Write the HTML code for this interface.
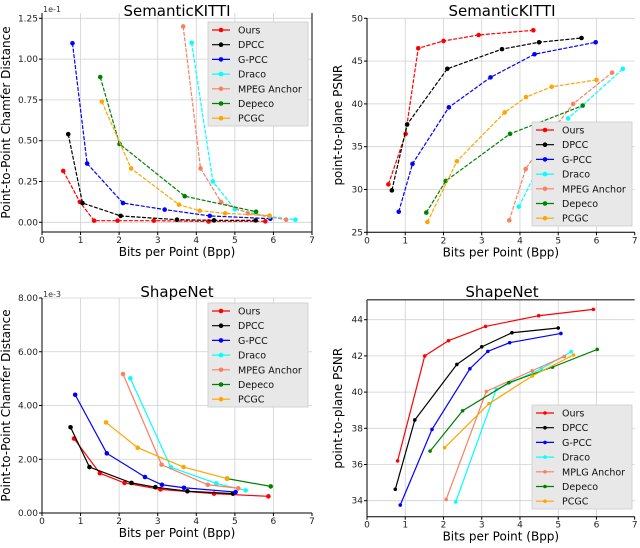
<!DOCTYPE html>
<html><head><meta charset="utf-8"><style>
body{margin:0;background:#fff;}
svg{display:block;font-family:"DejaVu Sans","Liberation Sans",sans-serif;}
</style></head><body>
<svg id="c" width="640" height="548"></svg>
<script>
const seriesNames=["Ours","DPCC","G-PCC","Draco","MPEG Anchor","Depeco","PCGC"];
const colors=["#ff0000","#000000","#0000ff","#00ffff","#fa8062","#008000","#ffa500"];
const xTicks=[0,1,2,3,4,5,6,7];

// Panel A: SemanticKITTI chamfer (1e-1)
const aX=[[0.55,0.98,1.35,1.96,2.9,4.32,5.79],[0.68,1.05,2.04,3.5,4.46,5.54],[0.79,1.17,2.1,3.18,4.35,5.92],[3.88,4.43,5.0,5.9,6.57],[3.66,4.11,4.64,5.34,6.33],[1.51,2.01,3.7,5.55],[1.55,2.31,3.55,4.09,4.75,5.9]];
const aY=[[0.315,0.125,0.01,0.01,0.01,0.005,0.006],[0.54,0.118,0.039,0.016,0.012,0.012],[1.097,0.36,0.118,0.078,0.039,0.022],[1.10,0.25,0.08,0.035,0.016],[1.2,0.33,0.125,0.055,0.016],[0.89,0.48,0.16,0.065],[0.74,0.33,0.108,0.071,0.055,0.041]];
const aYTicks=[0,0.25,0.5,0.75,1.0,1.25];
const aYLabels=["0.00","0.25","0.50","0.75","1.00","1.25"];
// Panel B: SemanticKITTI PSNR
const bX=[[0.56,1.01,1.34,2.0,2.92,4.35],[0.65,1.05,2.1,3.53,4.5,5.61],[0.83,1.19,2.14,3.23,4.38,5.98],[3.97,4.5,5.26,6.69],[3.72,4.15,4.71,5.39,6.41],[1.55,2.06,3.74,5.64],[1.58,2.35,3.6,4.16,4.83,6.0]];
const bY=[[30.6,36.5,46.5,47.35,48.05,48.6],[29.9,37.6,44.1,46.4,47.2,47.7],[27.4,33.0,39.6,43.1,45.8,47.2],[28.0,32.7,38.3,44.1],[26.4,32.4,36.1,40.0,43.65],[27.3,31.0,36.5,39.8],[26.2,33.3,39.0,40.8,42.0,42.8]];
const bYTicks=[25,30,35,40,45,50];
const bYLabels=["25","30","35","40","45","50"];
// Panel C: ShapeNet chamfer (1e-3)
const cX=[[0.83,1.5,2.14,3.07,4.46,5.87],[0.74,1.23,2.32,2.94,3.77,4.95],[0.86,1.68,2.67,3.11,3.68,5.02],[2.29,3.34,4.52,5.28],[2.1,3.1,4.3,5.09],[4.8,5.93],[1.66,2.48,3.67,4.8]];
const cY=[[2.77,1.48,1.12,0.88,0.72,0.62],[3.19,1.71,1.12,0.96,0.81,0.72],[4.40,2.22,1.34,1.05,0.94,0.78],[5.01,1.70,1.10,0.84],[5.17,1.80,1.05,0.92],[1.28,0.99],[3.37,2.43,1.71,1.28]];
const cYTicks=[0,2,4,6,8];
const cYLabels=["0.00","2.00","4.00","6.00","8.00"];
// Panel D: ShapeNet PSNR
const dX=[[0.8,1.51,2.13,3.1,4.49,5.92],[0.74,1.25,2.35,3.0,3.79,5.0],[0.87,1.7,2.69,3.16,3.73,5.07],[2.32,3.38,4.56,5.34],[2.07,3.12,4.32,5.16],[1.65,2.5,3.71,4.85,6.02],[2.03,3.19,4.32,5.4]];
const dY=[[36.2,42.0,42.84,43.63,44.22,44.57],[34.63,38.46,41.53,42.5,43.28,43.54],[33.76,37.94,41.29,42.25,42.73,43.24],[33.93,40.15,41.29,42.23],[34.07,40.04,41.18,41.97],[36.74,38.97,40.52,41.38,42.36],[36.93,39.36,40.89,42.05]];
const dYTicks=[34,36,38,40,42,44];
const dYLabels=["34","36","38","40","42","44"];

const NS="http://www.w3.org/2000/svg";
const svg=document.getElementById('c');
function mk(tag,attrs,parent,text){const e=document.createElementNS(NS,tag);for(const k in attrs)e.setAttribute(k,attrs[k]);if(text!==undefined)e.textContent=text;(parent||svg).appendChild(e);return e;}

function panel(p){
  const g=mk('g',{});
  
  
  const sx=v=>p.x0+(p.x7-p.x0)*v/7;
  const sy=v=>p.yb+(p.yt-p.yb)*(v-p.vmin)/(p.vmax-p.vmin);
  xTicks.forEach(t=>{if(t>0&&t<7){const l=mk('line',{x1:sx(t),x2:sx(t),y1:p.top,y2:p.bot,stroke:'#d0d0d0','stroke-width':0.8},g);
    }});
  p.yt_.forEach(t=>{const l=mk('line',{x1:p.x0,x2:p.x7,y1:sy(t),y2:sy(t),stroke:'#d0d0d0','stroke-width':0.8},g);
    });
  mk('line',{x1:p.x0,x2:p.x0,y1:p.top,y2:p.bot,stroke:'#000','stroke-width':1},g);
  mk('line',{x1:p.x0,x2:p.x7,y1:p.bot,y2:p.bot,stroke:'#000','stroke-width':1},g);
  if(p.rightSpine)mk('line',{x1:p.x7,x2:p.x7,y1:p.top,y2:p.bot,stroke:'#000','stroke-width':1},g);
  if(p.topSpine)mk('line',{x1:p.x0,x2:p.x7,y1:p.top,y2:p.top,stroke:'#555','stroke-width':1.5},g);
  xTicks.forEach(t=>{mk('line',{x1:sx(t),x2:sx(t),y1:p.bot,y2:p.bot+3,stroke:'#000'},g);
    const tx=mk('text',{x:sx(t),y:p.bot+11,'font-size':9,'text-anchor':'middle',fill:'#222'},g,String(t));
    });
  p.yt_.forEach((t,i)=>{mk('line',{x1:p.x0-3,x2:p.x0,y1:sy(t),y2:sy(t),stroke:'#000'},g);
    const tx=mk('text',{x:p.x0-4,y:sy(t)+3,'font-size':9,'text-anchor':'end',fill:'#222'},g,p.ylab[i]);
    });
  if(p.exp){const e=mk('text',{x:p.x0+1,y:p.top-1,'font-size':8,fill:'#333'},g,p.exp);}
  const tt=mk('text',{x:p.tx,y:p.ty,'font-size':15,'text-anchor':'middle',fill:'#000'},g,p.title);
  
  const xt=mk('text',{x:(p.x0+p.x7)/2,y:p.bot+24,'font-size':12,'text-anchor':'middle',fill:'#000'},g,'Bits per Point (Bpp)');
  
  const yt=mk('text',{x:0,y:0,'font-size':12,'text-anchor':'middle',fill:'#000',transform:`translate(${p.ylx},${(p.top+p.bot)/2}) rotate(-90)`},g,p.ytitle);
  
  p.X.forEach((xs,s)=>{
    const pts=xs.map((x,i)=>sx(x)+','+sy(p.Y[s][i])).join(' ');
    const pl=mk('polyline',{points:pts,fill:'none',stroke:colors[s],'stroke-width':1.2,'stroke-dasharray':p.dash?'4,1.5':'none'},g);
    
    
    xs.forEach((x,i)=>{const c=mk('circle',{cx:sx(x),cy:sy(p.Y[s][i]),r:p.r,fill:colors[s]},g);
      });
  });
  const lg=mk('g',{},g);
  
  
  mk('rect',{x:p.lx,y:p.ly,width:100,height:104,fill:'#e8e8e8',stroke:'#cccccc','stroke-width':0.8},lg);
  seriesNames.forEach((n,i)=>{const yy=p.ly+8+i*14.7;
    const e=mk('g',{},lg);
    
    
    mk('line',{x1:p.lx+4,x2:p.lx+22,y1:yy,y2:yy,stroke:colors[i],'stroke-width':1.2},e);
    mk('circle',{cx:p.lx+13,cy:yy,r:p.r,fill:colors[i]},e);
    mk('text',{x:p.lx+30,y:yy+3.5,'font-size':9.5,fill:'#111'},e,(p.alt&&i==4)?'MPLG Anchor':n);
  });
}
panel({name:'panel-semantickitti-chamfer',x0:42,x7:312,yb:222.3,yt:18.3,vmin:0,vmax:1.25,top:13,bot:232,X:aX,Y:aY,yt_:aYTicks,ylab:aYLabels,exp:'1e-1',title:'SemanticKITTI',tx:177,ty:16,ytitle:'Point-to-Point Chamfer Distance',ylx:10,rightSpine:true,lx:208,ly:22,r:2.3,dash:true});
panel({name:'panel-semantickitti-psnr',x0:367,x7:634.7,yb:232.3,yt:18.3,vmin:25,vmax:50,top:18,bot:232.3,X:bX,Y:bY,yt_:bYTicks,ylab:bYLabels,title:'SemanticKITTI',tx:502,ty:16,ytitle:'point-to-plane PSNR',ylx:342,lx:532,ly:122,r:2.3,dash:true});
panel({name:'panel-shapenet-chamfer',x0:42,x7:312,yb:513,yt:298,vmin:0,vmax:8,top:298,bot:513,X:cX,Y:cY,yt_:cYTicks,ylab:cYLabels,exp:'1e-3',title:'ShapeNet',tx:177,ty:297,ytitle:'Point-to-Point Chamfer Distance',ylx:10,lx:208,ly:303,r:2.3});
panel({name:'panel-shapenet-psnr',x0:367,x7:634.7,yb:500.7,yt:319.7,vmin:34,vmax:44,top:299.7,bot:516.7,X:dX,Y:dY,yt_:dYTicks,ylab:dYLabels,title:'ShapeNet',tx:502,ty:297,ytitle:'point-to-plane PSNR',ylx:342,topSpine:true,lx:532,ly:405,r:1.8,alt:true});
</script>
</body></html>
